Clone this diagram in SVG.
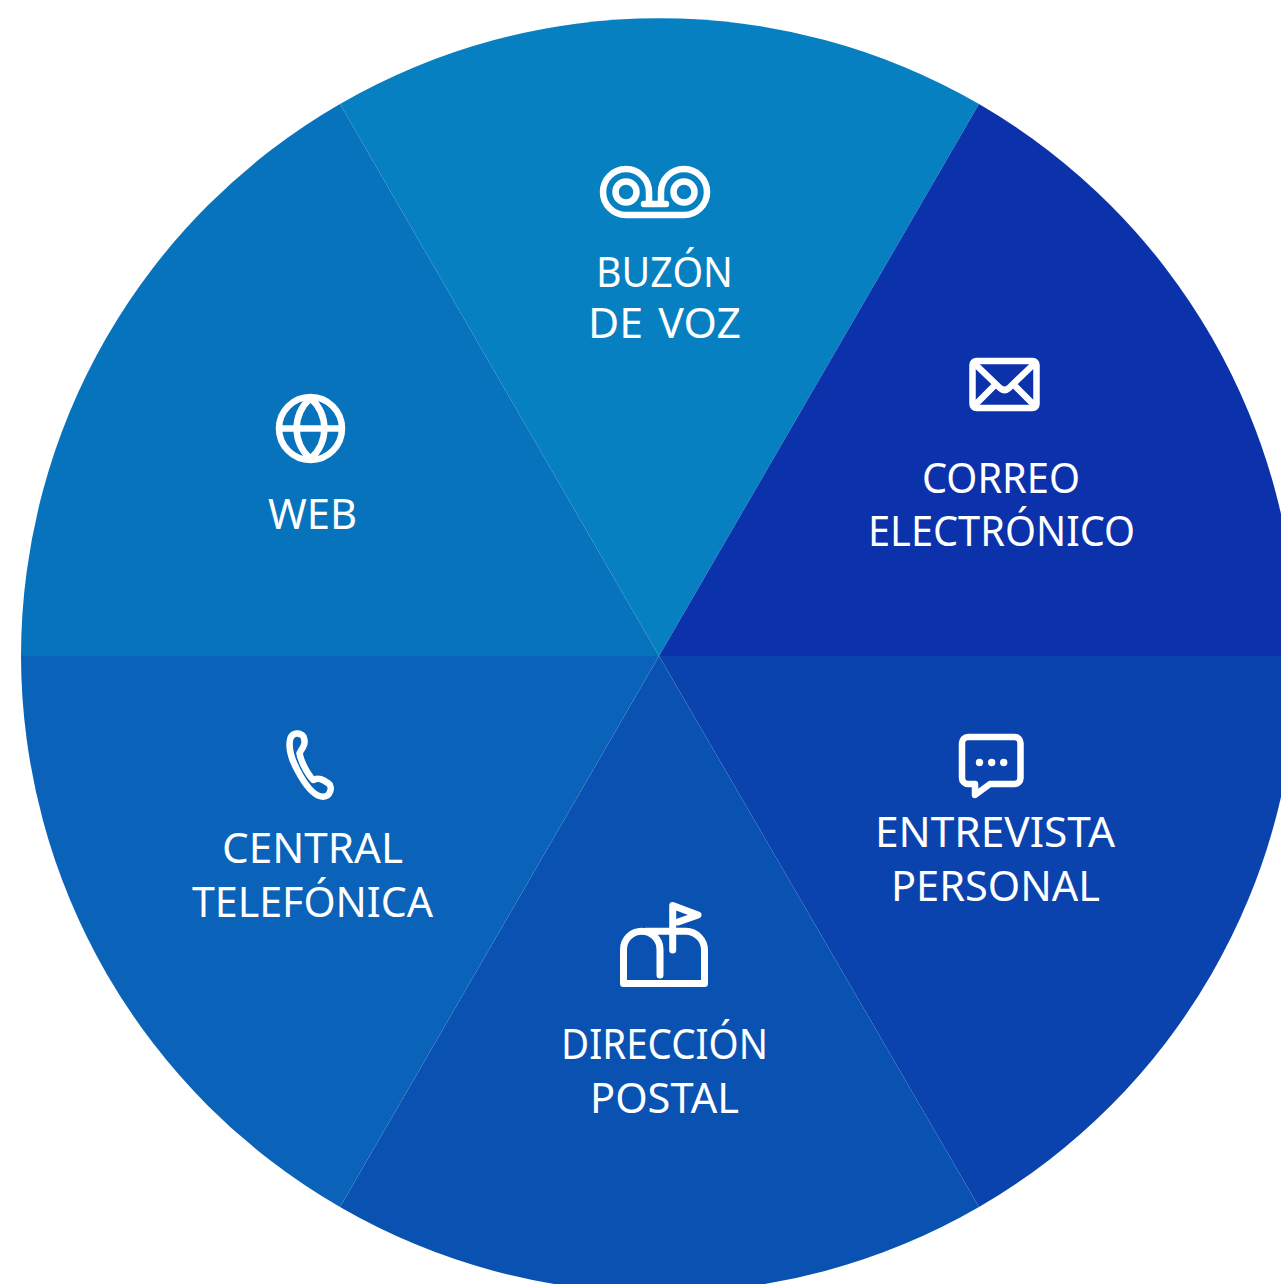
<svg xmlns="http://www.w3.org/2000/svg" width="1281" height="1284" viewBox="0 0 1281 1284">
<style>
text{font-family:"Noto Sans","Open Sans",sans-serif;font-size:41px;fill:#fff;text-anchor:middle}
.i{fill:none;stroke:#fff;stroke-width:6.5;stroke-linecap:round;stroke-linejoin:round}
.d{fill:#fff}
</style>
<rect width="1281" height="1284" fill="#fff"/>
<g id="seg-voz"><path d="M659 656L340 104A638 638 0 0 1 979 104Z" fill="#0780c1"/>
<g class="i"><path d="M626 215H684A23 23 0 1 0 661 192V204M644 204H666M649 204V192A23 23 0 1 0 626 215"/><circle cx="626" cy="192" r="10.500"/><circle cx="684" cy="192" r="10.500"/></g>
<path class="d" d="M642 206L649 197V203H661V197L668 206Z"/>
<text x="664.500" y="287" textLength="137" lengthAdjust="spacingAndGlyphs">BUZÓN</text><text x="664.500" y="338" style="word-spacing:4px" textLength="153" lengthAdjust="spacingAndGlyphs">DE VOZ</text></g>
<g id="seg-correo"><path d="M659 656L979 104A638 638 0 0 1 1297 656Z" fill="#0c32ab"/>
<g class="i"><rect x="972.500" y="361" width="64" height="47" rx="4"/><path d="M975 364L1000 388Q1004.500 392 1009 388L1034 364M975 405L993 387M1034 405L1016 387"/></g>
<text x="1001" y="493" textLength="158" lengthAdjust="spacingAndGlyphs">CORREO</text><text x="1001.500" y="546" textLength="267" lengthAdjust="spacingAndGlyphs">ELECTRÓNICO</text></g>
<g id="seg-entrevista"><path d="M659 656H1297A638 638 0 0 1 979 1207Z" fill="#0a43ae"/>
<g class="i"><path d="M990 784H1014.500a6 6 0 0 0 6-6V743a6 6 0 0 0-6-6H968a6 6 0 0 0-6 6V778a6 6 0 0 0 6 6H975V795Z"/></g>
<circle class="d" cx="979.500" cy="762.500" r="3.700"/><circle class="d" cx="991.700" cy="762.500" r="3.700"/><circle class="d" cx="1003.700" cy="762.500" r="3.700"/>
<text x="995" y="847" textLength="240" lengthAdjust="spacingAndGlyphs">ENTREVISTA</text><text x="995.500" y="901" textLength="209" lengthAdjust="spacingAndGlyphs">PERSONAL</text></g>
<g id="seg-postal"><path d="M659 656L979 1207A638 638 0 0 1 340 1207Z" fill="#0a52b2"/>
<g class="i" style="stroke-width:7"><path d="M660 975V949.500A18.250 18.250 0 0 0 623.500 949.500V983.500H704.500V950A19 19 0 0 0 686 931.200H646"/><path d="M672.700 950V905.500L698 915L678 922"/></g>
<text x="664.500" y="1059" textLength="207" lengthAdjust="spacingAndGlyphs">DIRECCIÓN</text><text x="664.500" y="1113" textLength="149" lengthAdjust="spacingAndGlyphs">POSTAL</text></g>
<g id="seg-central"><path d="M659 656L340 1207A638 638 0 0 1 21 656Z" fill="#0a62b9"/>
<g class="i"><path d="M290.500 738C287 750 293.300 763.300 300 775C306.700 786.700 315 796.700 323.300 796.700C330 796.700 333.300 786.700 328.300 783.300C323.300 780 318.300 776.700 313.300 780C306.700 773.300 300.500 760 299.500 753.300C301 749 307 745 303.500 736.700C300 731.700 292.500 732.700 290.500 738Z"/></g>
<text x="312.500" y="863" textLength="181" lengthAdjust="spacingAndGlyphs">CENTRAL</text><text x="312.500" y="917" textLength="241" lengthAdjust="spacingAndGlyphs">TELEFÓNICA</text></g>
<g id="seg-web"><path d="M659 656H21A638 638 0 0 1 340 104Z" fill="#0873bd"/>
<g class="i"><circle cx="310.500" cy="428.500" r="31.500"/><path d="M280 428.500H341M310.500 398C292 415 292 442 310.500 459C329 442 329 415 310.500 398Z"/></g>
<text x="312.500" y="529" textLength="89" lengthAdjust="spacingAndGlyphs">WEB</text></g>
</svg>
